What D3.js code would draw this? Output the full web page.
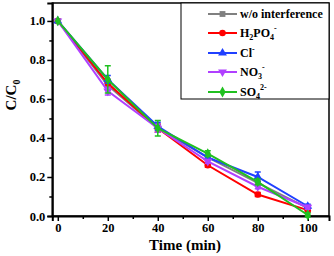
<!DOCTYPE html>
<html>
<head>
<meta charset="utf-8">
<script src="https://cdn.jsdelivr.net/npm/d3@7"></script>
<style>
  body { margin: 0; background: #fff; }
  text { font-family: "Liberation Serif", "Times New Roman", serif; font-weight: bold; }
</style>
</head>
<body>
<figure id="chart" style="margin:0"></figure>
<script>
// time points (min)
const times = [0, 20, 40, 60, 80, 100];

// C/C0 values per condition
const woInterference = [1.0, 0.67, 0.45, 0.30, 0.17, 0.04];
const h2po4 = [1.0, 0.68, 0.45, 0.26, 0.11, 0.03];
const cl = [1.0, 0.70, 0.46, 0.30, 0.20, 0.05];
const no3 = [1.0, 0.64, 0.45, 0.28, 0.15, 0.045];
const so4 = [1.0, 0.70, 0.45, 0.32, 0.175, 0.005];

// error bar half-widths
const errWo = [0, 0.02, 0.02, 0.01, 0.01, 0.01];
const errH2po4 = [0, 0.02, 0.02, 0.01, 0.01, 0.01];
const errCl = [0, 0.02, 0.02, 0.01, 0.025, 0.01];
const errNo3 = [0, 0.02, 0.02, 0.01, 0.01, 0.01];
const errSo4 = [0, 0.07, 0.04, 0.015, 0.015, 0.01];

const xTicks = [0, 20, 40, 60, 80, 100];
const yTicks = [0, 0.2, 0.4, 0.6, 0.8, 1.0];

const width = 334;
const height = 256;

const series = [
  { name: 'wo', values: woInterference, err: errWo, color: '#808080', symbol: d3.symbolSquare },
  { name: 'h2po4', values: h2po4, err: errH2po4, color: '#ff0000', symbol: d3.symbolCircle },
  { name: 'cl', values: cl, err: errCl, color: '#2040ff', symbol: d3.symbolTriangle },
  { name: 'no3', values: no3, err: errNo3, color: '#b040ff', symbol: d3.symbolTriangle, flip: true },
  { name: 'so4', values: so4, err: errSo4, color: '#20c020', symbol: d3.symbolDiamond }
];

const svg = d3.select('figure#chart')
  .append('svg')
  .attr('width', width)
  .attr('height', height);

const xScale = d3.scaleLinear().domain([-2.2, 108.5]).range([52.3, 329]);
const yScale = d3.scaleLinear().domain([0, 1.092]).range([216, 3]);

// frame
svg.append('rect')
  .attr('x', xScale.range()[0])
  .attr('y', yScale.range()[1])
  .attr('width', xScale.range()[1] - xScale.range()[0])
  .attr('height', yScale.range()[0] - yScale.range()[1])
  .attr('fill', 'none')
  .attr('stroke', '#000')
  .attr('stroke-width', 1.5);

// x axis
svg.append('g')
  .attr('transform', 'translate(0,216)')
  .call(d3.axisBottom(xScale).tickValues(xTicks).tickSize(5).tickPadding(2).tickFormat(d3.format('d')))
  .call(g => g.select('.domain').attr('stroke-width', 2))
  .call(g => g.selectAll('.tick line').attr('stroke-width', 1.5))
  .call(g => g.selectAll('.tick text').attr('font-size', 12.5).attr('fill', '#000')
    .style('font-family', '"Liberation Serif", serif').style('font-weight', 'bold'));

svg.append('g')
  .attr('transform', 'translate(0,216)')
  .call(d3.axisBottom(xScale).tickValues([10, 30, 50, 70, 90]).tickSize(3).tickFormat(''))
  .call(g => g.select('.domain').remove())
  .call(g => g.selectAll('.tick line').attr('stroke-width', 1.5));

// y axis
svg.append('g')
  .attr('transform', 'translate(52.3,0)')
  .call(d3.axisLeft(yScale).tickValues(yTicks).tickSize(5).tickPadding(2).tickFormat(d3.format('.1f')))
  .call(g => g.select('.domain').attr('stroke-width', 2))
  .call(g => g.selectAll('.tick line').attr('stroke-width', 1.5))
  .call(g => g.selectAll('.tick text').attr('font-size', 12.5).attr('fill', '#000')
    .style('font-family', '"Liberation Serif", serif').style('font-weight', 'bold'));

svg.append('g')
  .attr('transform', 'translate(52.3,0)')
  .call(d3.axisLeft(yScale).tickValues([0.1, 0.3, 0.5, 0.7, 0.9]).tickSize(3).tickFormat(''))
  .call(g => g.select('.domain').remove())
  .call(g => g.selectAll('.tick line').attr('stroke-width', 1.5));

// axis titles
svg.append('text')
  .attr('x', 185)
  .attr('y', 250)
  .attr('text-anchor', 'middle')
  .attr('font-size', 15)
  .text('Time (min)');

const yTitle = svg.append('text')
  .attr('transform', 'translate(16,' + 95 + ') rotate(-90)')
  .attr('text-anchor', 'middle')
  .attr('font-size', 15);
yTitle.append('tspan').text('C/C');
yTitle.append('tspan').attr('font-size', 10).attr('dy', 4).text('0');

const line = d3.line()
  .x((d, i) => xScale(times[i]))
  .y(d => yScale(d));

const groups = svg.selectAll('.line-group')
  .data(series)
  .join('g')
  .attr('class', 'line-group');

groups.append('path')
  .attr('d', d => line(d.values))
  .attr('fill', 'none')
  .attr('stroke', d => d.color)
  .attr('stroke-width', 2);

// error bars and markers
groups.each(function (s) {
  const g = d3.select(this);
  const pts = s.values.map((v, i) => ({ t: times[i], v: v, e: s.err[i] })).filter(p => p.e > 0);
  g.selectAll('.err')
    .data(pts)
    .join('path')
    .attr('class', 'err')
    .attr('d', p => {
      const x = xScale(p.t), y1 = yScale(p.v + p.e), y2 = yScale(p.v - p.e);
      return 'M' + x + ',' + y1 + 'V' + y2 + 'M' + (x - 3) + ',' + y1 + 'H' + (x + 3) + 'M' + (x - 3) + ',' + y2 + 'H' + (x + 3);
    })
    .attr('stroke', s.color)
    .attr('stroke-width', 1.5)
    .attr('fill', 'none');

  g.selectAll('.mark')
    .data(s.values)
    .join('path')
    .attr('class', 'mark')
    .attr('d', d3.symbol().type(s.symbol).size(34))
    .attr('transform', (d, i) => 'translate(' + xScale(times[i]) + ',' + yScale(d) + ')' + (s.flip ? ' rotate(180)' : ''))
    .attr('fill', s.color);
});

// legend
const legend = svg.append('g');
legend.append('rect')
  .attr('x', 181)
  .attr('y', 3)
  .attr('width', 148)
  .attr('height', 96)
  .attr('fill', '#fff')
  .attr('stroke', '#000')
  .attr('stroke-width', 1);

// [text, dy, font size]
const legendLabels = [
  [['w/o interference', 0, 12]],
  [['H', 0, 12], ['2', 3, 8], ['PO', -3, 12], ['4', 3, 8], ['-', -9, 8]],
  [['Cl', 0, 12], ['-', -5, 8]],
  [['NO', 0, 12], ['3', 3, 8], ['-', -9, 8]],
  [['SO', 0, 12], ['4', 3, 8], ['2-', -9, 8]]
];
const legendY = [14, 33, 53, 72, 92];

const items = legend.selectAll('.item')
  .data(series)
  .join('g')
  .attr('class', 'item')
  .attr('transform', (d, i) => 'translate(0,' + legendY[i] + ')');

items.append('line')
  .attr('x1', 208).attr('x2', 237)
  .attr('stroke', d => d.color)
  .attr('stroke-width', 2);

items.append('path')
  .attr('d', d => d3.symbol().type(d.symbol).size(34)())
  .attr('transform', d => 'translate(222.5,0)' + (d.flip ? ' rotate(180)' : ''))
  .attr('fill', d => d.color);

items.append('text')
  .attr('x', 240)
  .attr('y', 4)
  .attr('font-size', 12)
  .each(function (d, i) {
    const t = d3.select(this);
    legendLabels[i].forEach(p => {
      t.append('tspan').attr('dy', p[1]).attr('font-size', p[2]).text(p[0]);
    });
  });
</script>
</body>
</html>
